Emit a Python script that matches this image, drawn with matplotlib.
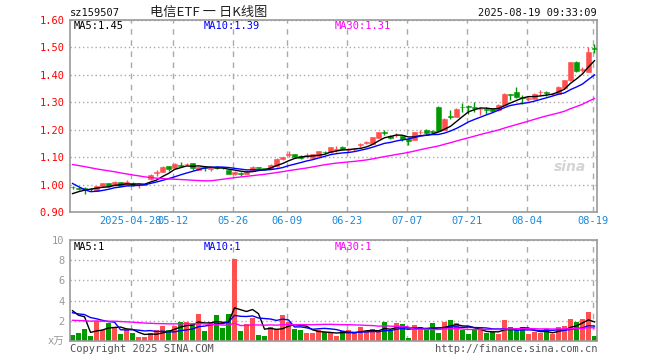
#!/usr/bin/env python3

import numpy as np
import pandas as pd
import matplotlib
matplotlib.use("Agg")
import matplotlib.pyplot as plt


# daily candles, 2025-04-14 .. 2025-08-19 (88 trading days)
l_open = [0.992, 0.987, 0.988, 0.985, 0.977, 0.995, 1.004, 0.998, 1.008, 1.000,
          1.006, 0.998, 1.000, 1.019, 1.043, 1.047, 1.067, 1.062, 1.072, 1.074,
          1.078, 1.054, 1.064, 1.058, 1.063, 1.062, 1.052, 1.039, 1.043, 1.040,
          1.050, 1.063, 1.059, 1.058, 1.067, 1.094, 1.108, 1.111, 1.103, 1.104,
          1.096, 1.103, 1.120, 1.118, 1.125, 1.137, 1.125, 1.129, 1.144, 1.153,
          1.149, 1.170, 1.191, 1.177, 1.180, 1.176, 1.167, 1.164, 1.190, 1.200,
          1.193, 1.282, 1.200, 1.250, 1.248, 1.284, 1.287, 1.284, 1.274, 1.275,
          1.274, 1.272, 1.289, 1.330, 1.338, 1.318, 1.312, 1.313, 1.336, 1.336,
          1.329, 1.332, 1.352, 1.380, 1.447, 1.418, 1.412, 1.497]
l_high = [0.995, 0.990, 0.990, 0.988, 0.995, 1.007, 1.006, 1.012, 1.010, 1.017,
          1.008, 1.003, 1.005, 1.037, 1.053, 1.068, 1.069, 1.077, 1.083, 1.080,
          1.080, 1.065, 1.066, 1.066, 1.066, 1.064, 1.054, 1.048, 1.045, 1.049,
          1.066, 1.065, 1.061, 1.074, 1.096, 1.102, 1.123, 1.113, 1.106, 1.114,
          1.112, 1.124, 1.122, 1.138, 1.140, 1.140, 1.132, 1.135, 1.150, 1.160,
          1.174, 1.193, 1.200, 1.179, 1.187, 1.178, 1.169, 1.192, 1.198, 1.203,
          1.198, 1.285, 1.242, 1.272, 1.278, 1.298, 1.289, 1.300, 1.282, 1.283,
          1.276, 1.293, 1.334, 1.332, 1.356, 1.328, 1.318, 1.334, 1.344, 1.342,
          1.334, 1.358, 1.382, 1.448, 1.449, 1.430, 1.502, 1.511]
l_low = [0.985, 0.980, 0.967, 0.978, 0.975, 0.993, 0.991, 0.996, 0.994, 0.998,
         0.996, 0.988, 0.997, 1.017, 1.032, 1.045, 1.049, 1.060, 1.063, 1.070,
         1.053, 1.052, 1.050, 1.048, 1.056, 1.055, 1.038, 1.036, 1.032, 1.038,
         1.048, 1.055, 1.053, 1.056, 1.065, 1.090, 1.099, 1.097, 1.094, 1.098,
         1.094, 1.101, 1.113, 1.116, 1.118, 1.126, 1.120, 1.124, 1.138, 1.147,
         1.147, 1.168, 1.180, 1.167, 1.175, 1.158, 1.145, 1.162, 1.186, 1.186,
         1.185, 1.195, 1.198, 1.239, 1.245, 1.266, 1.257, 1.263, 1.255, 1.258,
         1.266, 1.270, 1.287, 1.307, 1.316, 1.295, 1.306, 1.311, 1.326, 1.322,
         1.325, 1.330, 1.350, 1.378, 1.412, 1.410, 1.410, 1.478]
l_close = [0.990, 0.985, 0.983, 0.983, 0.994, 1.005, 0.993, 1.010, 0.995, 1.010,
           0.998, 1.000, 1.003, 1.035, 1.045, 1.064, 1.056, 1.075, 1.068, 1.076,
           1.059, 1.063, 1.061, 1.060, 1.061, 1.059, 1.040, 1.045, 1.040, 1.047,
           1.063, 1.061, 1.057, 1.072, 1.093, 1.100, 1.111, 1.099, 1.097, 1.106,
           1.110, 1.121, 1.118, 1.136, 1.128, 1.128, 1.127, 1.131, 1.146, 1.155,
           1.172, 1.191, 1.189, 1.170, 1.182, 1.167, 1.160, 1.190, 1.193, 1.188,
           1.191, 1.197, 1.240, 1.246, 1.276, 1.281, 1.283, 1.280, 1.276, 1.273,
           1.268, 1.290, 1.331, 1.326, 1.318, 1.314, 1.314, 1.332, 1.338, 1.333,
           1.331, 1.356, 1.380, 1.446, 1.414, 1.421, 1.484, 1.494]
# volume, x10k
l_volume = [0.56, 0.80, 1.15, 0.45, 2.00, 1.05, 1.80, 1.40, 0.65, 1.10,
            0.80, 0.35, 0.35, 0.80, 1.05, 1.45, 1.05, 1.45, 1.85, 1.85,
            1.65, 2.65, 0.95, 1.85, 2.55, 1.25, 2.65, 8.10, 0.95, 1.65,
            2.25, 0.56, 0.45, 1.35, 1.15, 2.55, 1.85, 1.15, 1.05, 0.75,
            0.75, 1.05, 0.85, 0.85, 0.45, 0.95, 1.05, 0.75, 1.35, 0.95,
            1.15, 0.85, 1.85, 1.05, 1.75, 1.65, 0.25, 1.55, 1.35, 1.05,
            1.75, 0.75, 1.85, 2.05, 1.75, 1.05, 0.65, 1.05, 1.25, 0.75,
            0.85, 0.65, 2.05, 1.35, 1.05, 1.35, 0.65, 0.85, 0.75, 1.15,
            0.65, 1.35, 1.45, 2.15, 1.85, 2.15, 2.85, 0.45]

# sessions before 04-14, estimated so the moving averages start where the picture does
l_hist_close = [1.09, 1.10, 1.11, 1.12, 1.11, 1.10, 1.11, 1.12, 1.12, 1.11,
                1.10, 1.11, 1.12, 1.11, 1.10, 1.11, 1.10, 1.10, 1.11, 1.10,
                1.10, 1.09, 1.06, 0.98, 0.975, 0.95, 0.955, 0.965, 0.975]
l_hist_volume = [1.5, 1.8, 1.6, 1.4, 1.9, 1.7, 1.5, 1.6, 2.0, 1.8,
                 1.7, 1.5, 1.6, 1.9, 1.7, 1.6, 1.5, 1.8, 1.7, 1.7,
                 2.0, 1.8, 3.4, 3.2, 2.6, 3.05, 1.9, 8.2, 1.29]

l_tick_pos = [10, 17, 27, 36, 46, 56, 66, 76, 87]
l_tick_lbl = ["2025-04-28", "05-12", "05-26", "06-09", "06-23",
              "07-07", "07-21", "08-04", "08-19"]

s_code = "sz159507"
s_title = "电信ETF 一 日K线图"
s_stamp = "2025-08-19 09:33:09"
l_ma_txt = ["MA5:1.45", "MA10:1.39", "MA30:1.31"]
l_vma_txt = ["MA5:1", "MA10:1", "MA30:1"]


C_UP = "#ff5050"
C_DN = "#009900"
C_GRID = "#aaaaaa"
C_SPINE = "#999999"
L_MA_COLORS = ["#000000", "#0000ff", "#ff00ff"]
MONO = ["DejaVu Sans Mono", "Noto Sans CJK SC"]
W, H = 660.0, 360.0


def px_rect(x0, y0, x1, y1):
    # pixel box (top-left origin) -> figure fraction rect
    return [x0 / W, 1 - y1 / H, (x1 - x0) / W, (y1 - y0) / H]
#


def fig_txt(fig, x, y, s, **kw):
    fig.text(x / W, 1 - y / H, s, va="center", **kw)
#


def rolling_ma(l_hist, l_vals, n):
    sr = pd.Series(list(l_hist) + list(l_vals))
    return sr.rolling(n, min_periods=1).mean().to_numpy()[len(l_hist):]
#


def style_axes(ax):
    for s_side in ("left", "right", "top", "bottom"):
        ax.spines[s_side].set_color(C_SPINE)
        ax.spines[s_side].set_linewidth(1.2)
    ax.tick_params(length=0)
    ax.set_xticks(np.array(l_tick_pos) - 0.3)
    ax.grid(axis="x", color=C_GRID, linestyle=(0, (4, 4)), linewidth=1.0)
    ax.grid(axis="y", color=C_GRID, linestyle=(0, (1, 2)), linewidth=1.0)
    ax.set_axisbelow(True)
    ax.set_xlim(-0.42, 87.42)
#


na_o = np.array(l_open)
na_h = np.array(l_high)
na_l = np.array(l_low)
na_c = np.array(l_close)
na_v = np.array(l_volume)
na_x = np.arange(len(na_o))
l_col = [C_UP if c >= o else C_DN for o, c in zip(na_o, na_c)]

fig = plt.figure(figsize=(6.6, 3.6), dpi=100)
fig.patch.set_facecolor("white")

# price panel
ax = fig.add_axes(px_rect(70, 20, 597, 212))
style_axes(ax)
ax.set_ylim(0.90, 1.60)
na_yt = np.round(np.arange(0.90, 1.601, 0.10), 2)
ax.set_yticks(na_yt)
ax.set_yticklabels(["%.2f" % f for f in na_yt], color="#ff0000",
                   family=MONO, fontsize=7.5)
ax.set_xticklabels(l_tick_lbl, color="#1a88d8", family=MONO, fontsize=7.5)
ax.tick_params(axis="x", pad=3)
ax.tick_params(axis="y", pad=4)

na_bot = np.minimum(na_o, na_c)
na_hgt = np.maximum(np.abs(na_c - na_o), 0.0025)
ax.vlines(na_x, na_l, na_h, colors=l_col, linewidth=1.0, zorder=2)
ax.bar(na_x, na_hgt, bottom=na_bot, width=0.75, color=l_col,
       edgecolor=l_col, linewidth=0.4, zorder=3)

for i_n, s_col in zip((5, 10, 30), L_MA_COLORS):
    ax.plot(na_x, rolling_ma(l_hist_close, l_close, i_n), color=s_col,
            linewidth=1.0, zorder=4)

ax.text(0.45, 167.0 / 190, "", transform=ax.transAxes)
fig_txt(fig, 570, 167, "sina", color="#d4d4d4", fontsize=10,
        fontstyle="italic", fontweight="bold", ha="center")

# volume panel
ax_v = fig.add_axes(px_rect(70, 240, 597, 341))
style_axes(ax_v)
ax_v.set_ylim(0, 10)
ax_v.set_yticks([0, 2, 4, 6, 8, 10])
ax_v.set_yticklabels(["x万", "2", "4", "6", "8", "10"], color="#999999",
                     family=MONO, fontsize=7.5)
ax_v.tick_params(axis="y", pad=4)
ax_v.set_xticklabels([])
ax_v.bar(na_x, na_v, width=0.83, color=l_col, linewidth=0, zorder=2)
for i_n, s_col in zip((5, 10, 30), L_MA_COLORS):
    ax_v.plot(na_x, rolling_ma(l_hist_volume, l_volume, i_n), color=s_col,
              linewidth=1.0, zorder=4)

# header / footer texts
fig_txt(fig, 70, 13, s_code, color="#111111", family=MONO, fontsize=7.5)
fig_txt(fig, 209, 12, s_title, color="#222222", fontsize=9.5,
        family=["Noto Sans CJK SC", "DejaVu Sans"], ha="center")
fig_txt(fig, 597, 13, s_stamp, color="#111111", family=MONO, fontsize=7.5,
        ha="right")
for f_x, s_t, s_col in zip((74, 204, 335), l_ma_txt, L_MA_COLORS):
    fig_txt(fig, f_x, 26, s_t, color=s_col, family=MONO, fontsize=7.5)
for f_x, s_t, s_col in zip((74, 204, 335), l_vma_txt, L_MA_COLORS):
    fig_txt(fig, f_x, 247, s_t, color=s_col, family=MONO, fontsize=7.5)
fig_txt(fig, 70, 349, "Copyright 2025 SINA.COM", color="#555555",
        family=MONO, fontsize=7.5)
fig_txt(fig, 597, 349, "http://finance.sina.com.cn", color="#555555",
        family=MONO, fontsize=7.5, ha="right")

fig.savefig("out.png", dpi=100)
